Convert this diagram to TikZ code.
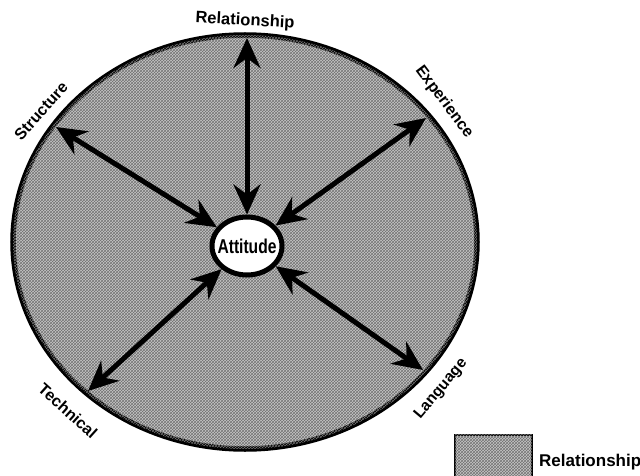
\documentclass[tikz,border=0pt]{standalone}
\usepackage{fontspec}
\setmainfont{Liberation Sans}
\usetikzlibrary{arrows.meta,shapes.geometric,patterns}
\begin{document}
\begin{tikzpicture}[x=1pt,y=-1pt,
  texture/.style={fill=black!22, postaction={pattern=crosshatch, pattern color=black!55}},
  ring/.style={draw, line width=5.5pt, texture},
  spoke/.style={line width=5pt,
    {Stealth[length=30pt,width=27pt,inset=10pt]}-{Stealth[length=30pt,width=27pt,inset=10pt]}},
  hub/.style={ellipse, draw, line width=5pt, fill=white, minimum width=70pt, minimum height=58pt, inner sep=0pt},
  lbl/.style={inner sep=0pt},
  legbox/.style={draw, line width=1.5pt, texture, minimum width=77pt, minimum height=50pt, anchor=north west, inner sep=0pt}]
\useasboundingbox (0,0) rectangle (640,476);
% outer ellipse
\draw[ring] (245,242) ellipse [x radius=232, y radius=207];
% hub
\node[hub] (att) at (247,246) {\makebox[0pt]{\scalebox{0.78}[1]{\bfseries\fontsize{20}{20}\selectfont Attitude}}};
% outer points
\coordinate (prel) at (247,38);
\coordinate (pstr) at (56,127);
\coordinate (pexp) at (426,118);
\coordinate (ptec) at (88,391);
\coordinate (plan) at (423,370);
% spokes
\draw[spoke] (att) -- (prel);
\draw[spoke] (att) -- (pstr);
\draw[spoke] (att) -- (pexp);
\draw[spoke] (att) -- (ptec);
\draw[spoke] (att) -- (plan);
% labels
\node[lbl, font=\bfseries\fontsize{16.5}{16.5}\selectfont, rotate=-3] (lrel) at (245,21) {Relationship};
\node[lbl, font=\bfseries\fontsize{16}{16}\selectfont, rotate=48] (lstr) at (41,111) {Structure};
\node[lbl, font=\bfseries\fontsize{16}{16}\selectfont, rotate=-53] (lexp) at (444,102) {Experience};
\node[lbl, font=\bfseries\fontsize{16}{16}\selectfont, rotate=-42] (ltec) at (68,411) {Technical};
\node[lbl, font=\bfseries\fontsize{15.5}{15.5}\selectfont, rotate=50] (llan) at (441,389) {Language};
% legend
\node[legbox] (leg) at (454,434) {};
\node[anchor=west, font=\bfseries\fontsize{17}{17}\selectfont, inner sep=0pt] (legt) at (539,462) {Relationship};
\end{tikzpicture}
\end{document}
